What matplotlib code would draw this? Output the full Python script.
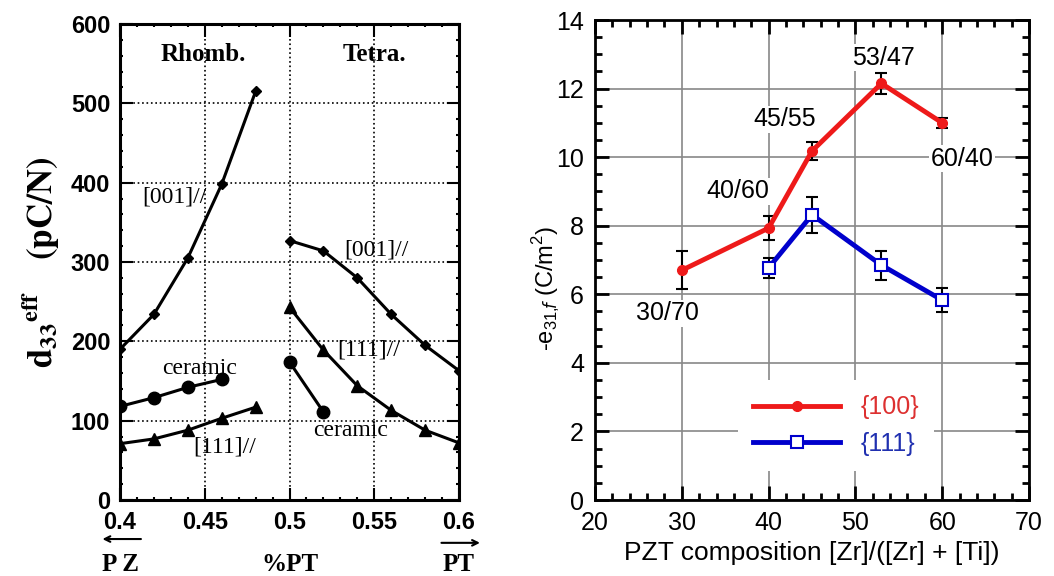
import matplotlib
matplotlib.use('Agg')
import matplotlib.pyplot as plt
from matplotlib.ticker import MultipleLocator

# ---- left panel data: d33 eff vs %PT ----
rh_x = [0.40, 0.42, 0.44, 0.46, 0.48]
rh_001 = [190, 234, 305, 398, 515]
rh_111 = [71, 77, 88, 103, 117]
rh_cer_x = [0.40, 0.42, 0.44, 0.46]
rh_cer = [118, 129, 142, 152]

te_x = [0.50, 0.52, 0.54, 0.56, 0.58, 0.60]
te_001 = [327, 314, 280, 234, 195, 163]
te_111 = [243, 189, 144, 113, 88, 72]
te_cer_x = [0.50, 0.52]
te_cer = [174, 111]

# ---- right panel data: -e31,f vs Zr fraction ----
zr_100 = [30, 40, 45, 53, 60]
e_100 = [6.7, 7.93, 10.18, 12.15, 11.0]
err_100 = [0.55, 0.35, 0.25, 0.3, 0.15]
zr_111 = [40, 45, 53, 60]
e_111 = [6.77, 8.32, 6.85, 5.83]
err_111 = [0.3, 0.52, 0.42, 0.36]
comp_labels = ['30/70', '40/60', '45/55', '53/47', '60/40']
comp_pos = [(28.3, 5.45), (36.4, 9.0), (41.9, 11.1), (53.2, 12.9), (62.3, 9.95)]

serif = ['Liberation Serif', 'DejaVu Serif']
sans = ['Liberation Sans', 'DejaVu Sans']
red = '#ee1a1a'
blue = '#0000cc'

fig = plt.figure(figsize=(10.54, 5.76), dpi=100)

# ================= left panel =================
ax1 = fig.add_axes([120/1054, 76/576, 339/1054, 476/576])
ax1.plot(rh_x, rh_001, 'k-', marker='D', ms=5, lw=2.2)
ax1.plot(rh_x, rh_111, 'k-', marker='^', ms=8, lw=2.2)
ax1.plot(rh_cer_x, rh_cer, 'k-', marker='o', ms=9, lw=2.2)
ax1.plot(te_x, te_001, 'k-', marker='D', ms=5, lw=2.2)
ax1.plot(te_x, te_111, 'k-', marker='^', ms=8, lw=2.2)
ax1.plot(te_cer_x, te_cer, 'k-', marker='o', ms=9, lw=2.2)

ax1.set_xlim(0.4, 0.6)
ax1.set_ylim(0, 600)
ax1.set_xticks([0.4, 0.45, 0.5, 0.55, 0.6])
ax1.set_xticklabels(['0.4', '0.45', '0.5', '0.55', '0.6'])
ax1.xaxis.set_minor_locator(MultipleLocator(0.01))
ax1.yaxis.set_major_locator(MultipleLocator(100))
ax1.yaxis.set_minor_locator(MultipleLocator(20))
ax1.grid(True, which='major', color='black', linestyle=':', linewidth=1.2)
ax1.tick_params(which='both', direction='in', top=True, right=True, width=1.5)
ax1.tick_params(which='major', length=9, labelsize=17)
ax1.tick_params(axis='x', which='major', pad=8)
ax1.tick_params(axis='y', which='major', pad=7)
for lab in ax1.get_xticklabels() + ax1.get_yticklabels():
    lab.set_fontweight('bold')
    lab.set_family(sans)
for sp in ax1.spines.values():
    sp.set_linewidth(2.2)

ax1.text(0.449, 561, 'Rhomb.', family=serif, fontweight='bold', fontsize=18, ha='center', va='center')
ax1.text(0.55, 561, 'Tetra.', family=serif, fontweight='bold', fontsize=18, ha='center', va='center')
ax1.text(0.432, 382, '[001]//', family=serif, fontsize=17, ha='center', va='center')
ax1.text(0.551, 315, '[001]//', family=serif, fontsize=17, ha='center', va='center')
ax1.text(0.447, 166, 'ceramic', family=serif, fontsize=17, ha='center', va='center')
ax1.text(0.547, 189, '[111]//', family=serif, fontsize=17, ha='center', va='center')
ax1.text(0.536, 88, 'ceramic', family=serif, fontsize=17, ha='center', va='center')
ax1.text(0.462, 67, '[111]//', family=serif, fontsize=17, ha='center', va='center')

ax1.set_ylabel(r'$\mathbf{d_{33}{}^{eff}}$   $\mathbf{(pC/N)}$', fontsize=25,
               math_fontfamily='stix')
ax1.yaxis.set_label_coords(-0.17, 0.5)

# arrows and labels below the x axis
ax1.annotate('', xy=(-0.06, -0.082), xytext=(0.07, -0.082), xycoords='axes fraction',
             arrowprops=dict(arrowstyle='->', color='black', lw=1.5), annotation_clip=False)
ax1.annotate('', xy=(1.07, -0.09), xytext=(0.94, -0.09), xycoords='axes fraction',
             arrowprops=dict(arrowstyle='->', color='black', lw=1.5), annotation_clip=False)
for xf, s in [(0.0, 'P Z'), (0.5, '%PT'), (1.0, 'PT')]:
    ax1.text(xf, -0.136, s, transform=ax1.transAxes, family=serif, fontweight='bold',
             fontsize=18, ha='center', va='center')

# ================= right panel =================
ax2 = fig.add_axes([595/1054, 76/576, 434/1054, 480/576])
eb1 = ax2.errorbar(zr_100, e_100, yerr=err_100, color=red, lw=3.5, marker='o', ms=7,
                   ecolor='black', elinewidth=1.5, capsize=4, capthick=1.5, label='{100}', zorder=3)
eb2 = ax2.errorbar(zr_111, e_111, yerr=err_111, color=blue, lw=3.5, marker='s', ms=8,
                   mfc='white', mec=blue, mew=1.5,
                   ecolor='black', elinewidth=1.5, capsize=4, capthick=1.5, label='{111}', zorder=3)

for lab, (px, py) in zip(comp_labels, comp_pos):
    ax2.text(px, py, lab, family=sans, fontsize=18, ha='center', va='center', zorder=2,
             bbox=dict(facecolor='white', edgecolor='none', pad=1))

ax2.set_xlim(20, 70)
ax2.set_ylim(0, 14)
ax2.xaxis.set_major_locator(MultipleLocator(10))
ax2.xaxis.set_minor_locator(MultipleLocator(2))
ax2.yaxis.set_major_locator(MultipleLocator(2))
ax2.yaxis.set_minor_locator(MultipleLocator(0.5))
ax2.grid(True, which='major', color='#888888', linewidth=1.2)
ax2.set_axisbelow(True)
ax2.tick_params(which='both', direction='in', top=True, right=True, width=2)
ax2.tick_params(which='major', length=10, labelsize=18, pad=8)
ax2.tick_params(which='minor', length=5)
for lab in ax2.get_xticklabels() + ax2.get_yticklabels():
    lab.set_family(sans)
for sp in ax2.spines.values():
    sp.set_linewidth(2)

ax2.set_xlabel('PZT composition [Zr]/([Zr] + [Ti])', family=sans, fontsize=19, labelpad=4)
ax2.set_ylabel(r'-e$_{\mathregular{31,}\!\!\mathit{f}}$ (C/m$^{\mathregular{2}}$)', family=sans,
               fontsize=17)
ax2.yaxis.set_label_coords(-0.075, 0.44)

leg = ax2.legend(handles=[eb1[0], eb2[0]], labels=['{100}', '{111}'], loc='center',
                 bbox_to_anchor=(0.555, 0.155), fontsize=18, handlelength=3.5,
                 frameon=True, edgecolor='none', facecolor='white', framealpha=1,
                 borderpad=0.6, fancybox=False)
for t, c in zip(leg.get_texts(), ['#dd3030', '#2030b0']):
    t.set_color(c)
    t.set_family(sans)

fig.savefig('out.png', dpi=100)
